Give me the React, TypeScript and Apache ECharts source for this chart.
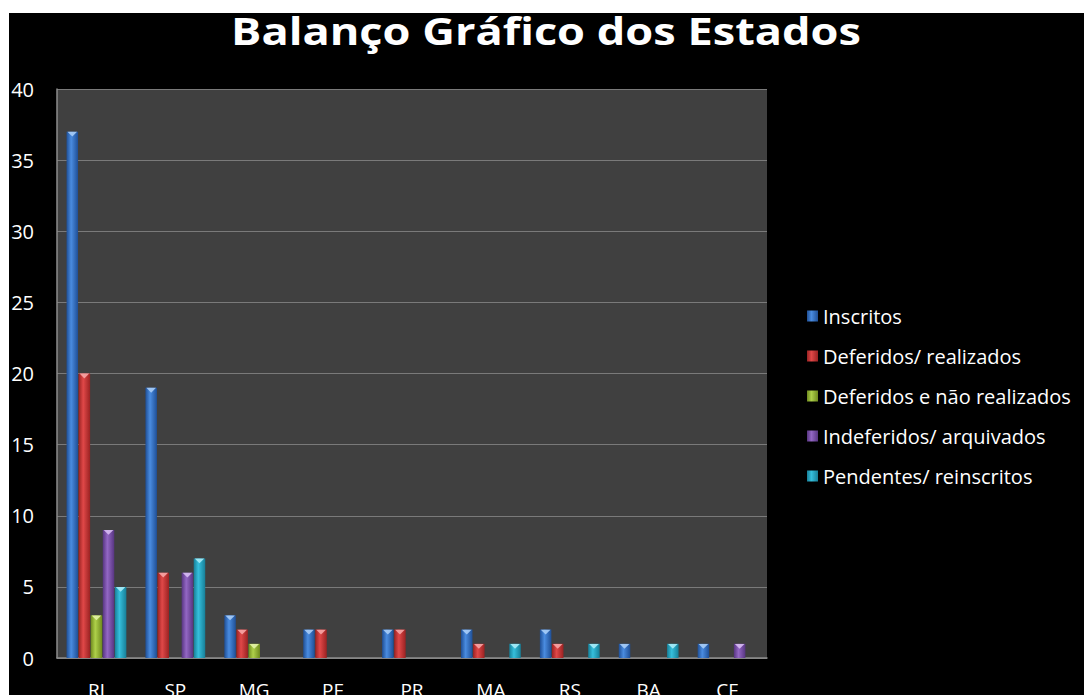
import React, { useEffect, useRef } from "react";
import * as echarts from "echarts";

const categories = ["RJ", "SP", "MG", "PE", "PR", "MA", "RS", "BA", "CE"];
const seriesNames = [
  "Inscritos",
  "Deferidos/ realizados",
  "Deferidos e não realizados",
  "Indeferidos/ arquivados",
  "Pendentes/ reinscritos",
];
const inscritos = [37, 19, 3, 2, 2, 2, 2, 1, 1];
const deferidosRealizados = [20, 6, 2, 2, 2, 1, 1, 0, 0];
const deferidosNaoRealizados = [3, 0, 1, 0, 0, 0, 0, 0, 0];
const indeferidos = [9, 6, 0, 0, 0, 0, 0, 0, 1];
const pendentes = [5, 7, 0, 0, 0, 1, 1, 1, 0];
const yTicks = { min: 0, max: 40, interval: 5 };
const titleText = "Balanço Gráfico dos Estados";

const palette = [
  { dark: "#1f4f96", mid: "#4a8ce0", cap: "#a9cdf7" },
  { dark: "#9a2222", mid: "#e04848", cap: "#f7a5a5" },
  { dark: "#6f8a1e", mid: "#aed04a", cap: "#e3f3a6" },
  { dark: "#573581", mid: "#9367c4", cap: "#d7bdf3" },
  { dark: "#177f98", mid: "#36bfdc", cap: "#a9ecf8" },
];

const seriesData = [inscritos, deferidosRealizados, deferidosNaoRealizados, indeferidos, pendentes];

export default function App() {
  const ref = useRef<HTMLDivElement>(null);
  useEffect(() => {
    if (!ref.current) return;
    const chart = echarts.init(ref.current, null, { renderer: "svg" });
    const barWidth = 11.5;
    const barGap = "5%";
    const bars = seriesData.map((d, i) => ({
      name: seriesNames[i],
      type: "bar",
      data: d,
      barWidth,
      barGap,
      itemStyle: {
        color: new echarts.graphic.LinearGradient(0, 0, 1, 0, [
          { offset: 0, color: palette[i].dark },
          { offset: 0.4, color: palette[i].mid },
          { offset: 1, color: palette[i].dark },
        ]),
      },
    }));
    const caps = seriesData.map((d, i) => ({
      name: "cap" + i,
      type: "pictorialBar",
      data: d.map((v) => (v > 0 ? v : "-")),
      barWidth,
      barGap,
      symbol: "triangle",
      symbolRotate: 180,
      symbolSize: [barWidth - 2, 5],
      symbolPosition: "end",
      symbolOffset: [0, 0],
      itemStyle: { color: palette[i].cap, opacity: 0.9 },
      silent: true,
      z: 3,
    }));
    chart.setOption({
      animation: false,
      backgroundColor: "#ffffff",
      graphic: [
        {
          type: "rect",
          shape: { x: 9, y: 13, width: 1075, height: 682 },
          style: { fill: "#000000" },
          z: -10,
          silent: true,
        },
        {
          type: "text",
          x: 546,
          y: 12,
          scaleX: 1.22,
          silent: true,
          style: {
            text: titleText,
            fill: "#ffffff",
            font: "bold 37px 'Open Sans'",
            textAlign: "center",
            textVerticalAlign: "top",
          },
        },
      ],
      legend: {
        data: seriesNames,
        orient: "vertical",
        left: 802,
        top: 301,
        itemWidth: 11,
        itemHeight: 11,
        itemGap: 20,
        icon: "rect",
        textStyle: { color: "#ffffff", fontFamily: "Open Sans", fontSize: 20 },
      },
      grid: {
        left: 57,
        top: 89,
        width: 710,
        height: 569,
        show: true,
        backgroundColor: "#404040",
        borderWidth: 0,
        containLabel: false,
        outerBoundsMode: "none",
      },
      xAxis: {
        type: "category",
        data: categories,
        axisLine: { show: true, lineStyle: { color: "#8c8c8c", width: 1.5 } },
        axisTick: { show: false },
        axisLabel: { color: "#ffffff", fontFamily: "Open Sans", fontSize: 19, margin: 22 },
      },
      yAxis: {
        type: "value",
        min: yTicks.min,
        max: yTicks.max,
        interval: yTicks.interval,
        axisLine: { show: true, lineStyle: { color: "#8c8c8c", width: 1.5 } },
        axisTick: { show: false },
        splitLine: { lineStyle: { color: "#7a7a7a", width: 1 } },
        axisLabel: { color: "#ffffff", fontFamily: "Open Sans", fontSize: 20, margin: 23 },
      },
      series: [...bars, ...caps],
    });
    return () => chart.dispose();
  }, []);
  return (
    <div
      ref={ref}
      style={{ position: "absolute", left: 0, top: 0, width: 1084, height: 695 }}
    />
  );
}
